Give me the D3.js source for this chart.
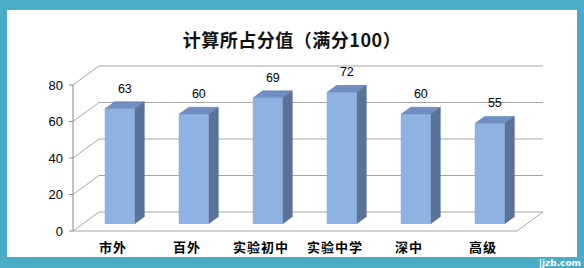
<!DOCTYPE html>
<html>
<head>
<meta charset="utf-8" />
<title>计算所占分值</title>
<script src="https://cdn.jsdelivr.net/npm/d3@7/dist/d3.min.js"></script>
<style>
  body { margin: 0; background: #4bacc6; }
  svg { display: block; }
</style>
</head>
<body>
<div id="chart"></div>
<script>
// chart data
var categories = ['市外', '百外', '实验初中', '实验中学', '深中', '高级'];
var values = [63, 60, 69, 72, 60, 55];
var yTicks = [0, 20, 40, 60, 80];
var titleText = '计算所占分值（满分100）';

var W = 584, H = 268;
var svg = d3.select('#chart').append('svg')
  .attr('width', W)
  .attr('height', H);

// teal frame + white panel
svg.append('rect').attr('width', W).attr('height', H).attr('fill', '#4bacc6');
svg.append('rect').attr('x', 7).attr('y', 10).attr('width', 570).attr('height', 247).attr('fill', '#ffffff');

svg.append('text')
  .attr('x', 292).attr('y', 47)
  .attr('text-anchor', 'middle')
  .attr('font-family', '"Noto Sans CJK SC", sans-serif')
  .attr('font-weight', 'bold')
  .attr('font-size', '18px')
  .attr('letter-spacing', '0.5px')
  .attr('fill', '#111')
  .text(titleText);

// front plane scales, depth pushes things up and right
var x = d3.scaleBand().domain(categories).range([73, 517]).paddingInner(0.6).paddingOuter(0.3);
var y = d3.scaleLinear().domain([0, 80]).range([231, 85]);
var DX = 26, DY = -19;
function px(xv, d) { return xv + DX * d; }
function py(yv, d) { return yv + DY * d; }

var grid = svg.append('g').attr('stroke', '#a6a6a6').attr('stroke-width', 1).attr('fill', 'none');
var x0 = x.range()[0], x1 = x.range()[1];

// back wall lines + side wall diagonals
yTicks.forEach(function (v) {
  grid.append('line')
    .attr('x1', px(x0, 1)).attr('y1', py(y(v), 1))
    .attr('x2', px(x1, 1)).attr('y2', py(y(v), 1));
  grid.append('line')
    .attr('x1', x0).attr('y1', y(v))
    .attr('x2', px(x0, 1)).attr('y2', py(y(v), 1));
});
// floor
grid.append('path')
  .attr('d', 'M' + x0 + ',' + y(0) + 'L' + x1 + ',' + y(0) + 'L' + px(x1, 1) + ',' + py(y(0), 1));

// y axis
var axis = svg.append('g');
axis.append('line')
  .attr('x1', x0).attr('y1', y(0)).attr('x2', x0).attr('y2', y(80))
  .attr('stroke', '#868686');
axis.selectAll('.tk').data(yTicks).enter().append('line')
  .attr('x1', x0 - 4).attr('x2', x0)
  .attr('y1', function (d) { return y(d); })
  .attr('y2', function (d) { return y(d); })
  .attr('stroke', '#868686');
axis.selectAll('.tl').data(yTicks).enter().append('text')
  .attr('x', x0 - 10)
  .attr('y', function (d) { return y(d) + 4.5; })
  .attr('text-anchor', 'end')
  .attr('font-family', '"Liberation Sans", Arial, sans-serif')
  .attr('font-size', '13px')
  .attr('fill', '#000')
  .text(function (d) { return d; });

// 3d columns
var dFront = 0.38, dBack = 0.75;
var data = categories.map(function (c, i) { return { name: c, v: values[i] }; });

var bars = svg.selectAll('g.bar').data(data).enter().append('g').attr('class', 'bar');

bars.append('path') // side
  .attr('fill', '#5b739b')
  .attr('stroke', '#4d6288').attr('stroke-width', 0.5)
  .attr('d', function (d) {
    var xr = x(d.name) + x.bandwidth();
    return 'M' + px(xr, dFront) + ',' + py(y(0), dFront) +
      'L' + px(xr, dFront) + ',' + py(y(d.v), dFront) +
      'L' + px(xr, dBack) + ',' + py(y(d.v), dBack) +
      'L' + px(xr, dBack) + ',' + py(y(0), dBack) + 'Z';
  });

bars.append('path') // top
  .attr('fill', '#6f8fc2')
  .attr('stroke', '#55709c').attr('stroke-width', 0.5)
  .attr('d', function (d) {
    var xl = x(d.name), xr = xl + x.bandwidth(), yt = y(d.v);
    return 'M' + px(xl, dFront) + ',' + py(yt, dFront) +
      'L' + px(xr, dFront) + ',' + py(yt, dFront) +
      'L' + px(xr, dBack) + ',' + py(yt, dBack) +
      'L' + px(xl, dBack) + ',' + py(yt, dBack) + 'Z';
  });

bars.append('rect') // front
  .attr('x', function (d) { return px(x(d.name), dFront); })
  .attr('y', function (d) { return py(y(d.v), dFront); })
  .attr('width', x.bandwidth())
  .attr('height', function (d) { return y(0) - y(d.v); })
  .attr('fill', '#8db3e2')
  .attr('stroke', '#7a9fd0').attr('stroke-width', 0.5);

// value labels
bars.append('text')
  .attr('x', function (d) { return px(x(d.name) + x.bandwidth() / 2, dFront) + 5; })
  .attr('y', function (d) { return py(y(d.v), dFront) - 16; })
  .attr('text-anchor', 'middle')
  .attr('font-family', '"Liberation Sans", Arial, sans-serif')
  .attr('font-size', '12.5px')
  .attr('fill', '#000')
  .text(function (d) { return d.v; });

// category labels
svg.selectAll('text.cat').data(categories).enter().append('text')
  .attr('class', 'cat')
  .attr('x', function (d) { return x(d) + x.bandwidth() / 2 + 3; })
  .attr('y', 252)
  .attr('text-anchor', 'middle')
  .attr('font-family', '"Noto Sans CJK SC", sans-serif')
  .attr('font-weight', 'bold')
  .attr('font-size', '13px')
  .attr('letter-spacing', '1px')
  .attr('fill', '#000')
  .text(function (d) { return d; });

// watermark
svg.append('text')
  .attr('x', 581).attr('y', 266)
  .attr('text-anchor', 'end')
  .attr('font-family', '"DejaVu Sans", sans-serif')
  .attr('font-weight', 'bold')
  .attr('font-size', '9px')
  .attr('fill', '#ffffff')
  .text('|jzb.com');
</script>
</body>
</html>
